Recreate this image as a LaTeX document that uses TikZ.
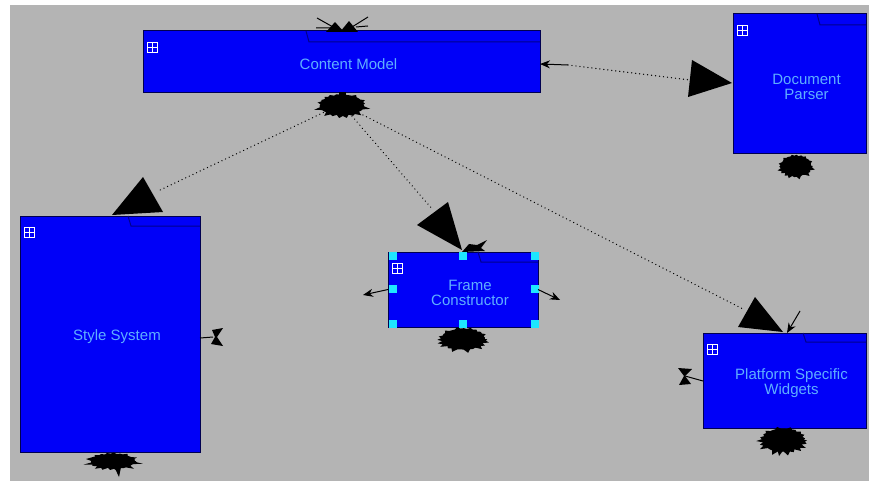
\documentclass[tikz,border=0pt]{standalone}
\usepackage{fontspec}
\setmainfont{Liberation Sans}
\usetikzlibrary{arrows.meta,calc}

\definecolor{canvasgray}{RGB}{180,180,180}
\definecolor{pkgfill}{RGB}{0,0,248}
\definecolor{pkgedge}{RGB}{0,0,80}
\definecolor{tabedge}{RGB}{0,0,140}
\definecolor{pkgtext}{RGB}{95,175,255}
\definecolor{handlecyan}{RGB}{30,230,255}

\tikzset{
  pkg/.style={draw=pkgedge, line width=1pt, fill=pkgfill, inner sep=0pt, outer sep=0pt, anchor=north west},
  pkglabel/.style={text=pkgtext, font=\fontsize{15}{15}\selectfont, align=center, inner sep=0pt},
  tabline/.style={draw=tabedge, line width=1pt},
  pkgicon/.style={draw=white, line width=0.9pt, minimum size=10pt, inner sep=0pt,
    path picture={\draw[white, line width=0.9pt]
      (path picture bounding box.north) -- (path picture bounding box.south)
      (path picture bounding box.west) -- (path picture bounding box.east);}},
  dep/.style={line width=1.4pt, dash pattern=on 0.01pt off 4pt, line cap=round},
  smallarrow/.style={draw=black, line width=1pt, -{Stealth[length=10pt,width=8pt]}},
  handlebox/.style={fill=handlecyan, draw=none, minimum size=8pt, inner sep=0pt},
  inkfill/.style={fill=black}
}

% irregular ink blot: centre, x-radius, y-radius, spike depth, phase
\newcommand\inkblob[5]{%
  \fill[inkfill, shift={(#1)}] plot[domain=0:360, samples=46, variable=\t]
   ({(#2)*(1+#4*abs(sin(5*\t+#5))*ifthenelse(mod(round(\t/8),2)==0,1,0.25)*ifthenelse(sin(\t)>0,1,0.5))*cos(\t)},
    {(#3)*(1+#4*abs(sin(5*\t+#5))*ifthenelse(mod(round(\t/8),2)==0,1,0.25)*ifthenelse(sin(\t)>0,1,0.5))*sin(\t)}) -- cycle;}

% folder tab line inside a package box: name, distance from right edge, depth
\newcommand\pkgtab[3]{%
  \draw[tabline] ([xshift=-#2pt]#1.north east) -- ++(3,#3) coordinate (#1-tab) -- (#1-tab -| #1.east);}

\begin{document}
\begin{tikzpicture}[x=1pt,y=-1pt]
\useasboundingbox (0,0) rectangle (869,481);
\fill[white] (0,0) rectangle (869,481);
\fill[canvasgray] (10,5) rectangle (869,481);

% package boxes
\node[pkg, minimum width=397pt, minimum height=62pt]  (cm)  at (143,31)  {};
\node[pkg, minimum width=133pt, minimum height=140pt] (dp)  at (733,14)  {};
\node[pkg, minimum width=180pt, minimum height=236pt] (ss)  at (20,216)  {};
\node[pkg, minimum width=150pt, minimum height=75pt]  (fc)  at (388,252) {};
\node[pkg, minimum width=163pt, minimum height=95pt]  (psw) at (703,333) {};

\pkgtab{cm}{234}{11}
\pkgtab{dp}{49}{11}
\pkgtab{ss}{72}{10}
\pkgtab{fc}{60}{10}
\pkgtab{psw}{63}{9}

\foreach \b in {cm,dp,ss,fc,psw}
  \node[pkgicon] (\b-icon) at ([shift={(9,16)}]\b.north west) {};

\node[pkglabel] (cm-label)  at ([xshift=7pt,yshift=-2pt]cm.center)  {Content Model};
\node[pkglabel] (dp-label)  at ([xshift=7pt,yshift=-3pt]dp.center)  {Document\\Parser};
\node[pkglabel] (ss-label)  at ([xshift=7pt,yshift=-3pt]ss.center)  {Style System};
\node[pkglabel] (fc-label)  at ([xshift=7pt,yshift=-3pt]fc.center)  {Frame\\Constructor};
\node[pkglabel] (psw-label) at ([xshift=7pt,yshift=-3pt]psw.center) {Platform Specific\\Widgets};

% selection handles
\foreach \hx/\hy in {393/256, 463/256, 535/256, 393/289, 535/289, 393/324, 463/324, 535/324}
  \node[handlebox] (fc-h-\hx-\hy) at (\hx,\hy) {};

% dependency end points
\coordinate (hub) at ([yshift=-11pt]cm.south);
\coordinate (ss-head) at (158,191);
\coordinate (fc-head) at (433,210);
\coordinate (psw-head) at (745,310);
\coordinate (dp-head) at (690,80);
\coordinate (cm-port) at (568,65);

% dotted dependencies
\draw[dep] (hub) -- (ss-head);
\draw[dep] (hub) -- (fc-head);
\draw[dep] (hub) -- (psw-head);
\draw[dep] (cm-port) -- (dp-head);

% large arrow heads
\fill[inkfill] (143,177) -- (112,215) -- (163,212) -- cycle;
\fill[inkfill] (448,202) -- (417,225) -- (462,250) -- cycle;
\fill[inkfill] (755,297) -- (738,327) -- (783,332) -- cycle;
\fill[inkfill] (692,60) -- (688,97) -- (732,83) -- cycle;

% small arrows
\draw[smallarrow] (cm-port) -- ([yshift=-2pt]cm.east);
\coordinate (fc-lout) at (363,295);
\coordinate (fc-rout) at (560,300);
\draw[smallarrow] (fc.west) -- (fc-lout);
\draw[smallarrow] (fc.east) -- (fc-rout);
\coordinate (psw-in) at (800,311);
\draw[smallarrow] (psw-in) -- ([xshift=2.5pt]psw.north);

% ink blots of overlapping arrow heads
\inkblob{342,105}{21}{10}{0.4}{10}
\fill[inkfill] (339,92) rectangle (346,97);
\inkblob{796,166}{15}{10}{0.35}{40}
\inkblob{113,461}{21}{7}{0.5}{25}
\fill[inkfill] (112,462) -- (122,462) -- (119,477) -- cycle;
\fill[inkfill] (86,459) -- (100,455) -- (97,463) -- cycle;
\inkblob{463,339}{21}{10}{0.4}{55}
\inkblob{783,440}{20}{11}{0.45}{70}
\fill[inkfill] (776,444) -- (788,444) -- (779,456) -- cycle;

% clustered heads above the content model
\fill[inkfill] (335,22) -- (326,32) -- (344,32) -- cycle;
\fill[inkfill] (349,21) -- (340,32) -- (358,32) -- cycle;
\draw[line width=1pt] (317,18) -- (333,27) (368,17) -- (352,27)
  (316,28) -- (333,28) (356,27) -- (368,26);

% clustered head above the frame constructor
\fill[inkfill] (462,252) -- (469,244) -- (477,245) -- (487,240) -- (481,248) -- (485,251) -- cycle;

% crossed heads beside the style system and the widgets
\draw[line width=1pt] (ss.east |- 0,338) -- (213,337);
\fill[inkfill] (212,330) -- (223,328) -- (217,337) -- (223,346) -- (211,344) -- (215,337) -- cycle;
\draw[line width=1pt] (703,381) -- (685,376);
\fill[inkfill] (678,368) -- (692,369) -- (685,376) -- (691,384) -- (679,385) -- (684,376) -- cycle;
\end{tikzpicture}
\end{document}
